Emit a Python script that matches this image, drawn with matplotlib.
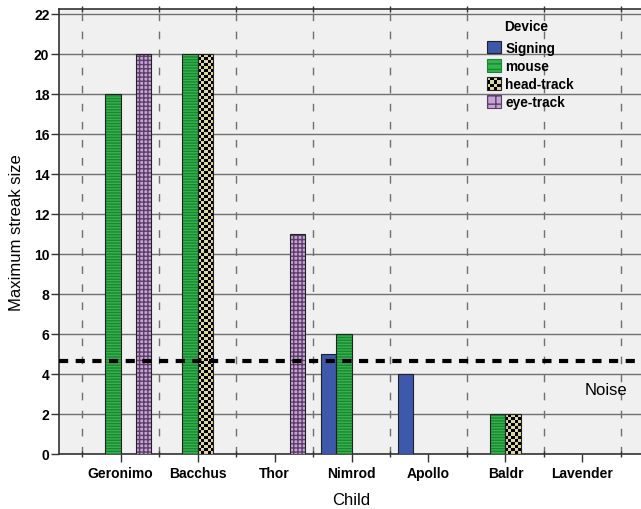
import numpy as np
import matplotlib
matplotlib.use('Agg')
import matplotlib.pyplot as plt
from matplotlib.colors import ListedColormap
from matplotlib.patches import Rectangle, Patch
from matplotlib.legend_handler import HandlerBase

plt.rcParams['font.family'] = ['Liberation Sans', 'DejaVu Sans']
plt.rcParams['hatch.linewidth'] = 1.0

children = ['Geronimo', 'Bacchus', 'Thor', 'Nimrod', 'Apollo', 'Baldr', 'Lavender']
devices = ['Signing', 'mouse', 'head-track', 'eye-track']
nan = np.nan
signing = [nan, nan, nan, 5, 4, nan, 0]
mouse = [18, 20, nan, 6, nan, 2, nan]
head_track = [nan, 20, nan, nan, nan, 2, nan]
eye_track = [20, nan, 11, nan, nan, nan, nan]
noise_level = 4.65

BLUE = '#3e58ab'
GREEN = '#34b44c'
GREEN_DARK = '#1c8533'
KHAKI = '#dcd69a'
LILAC = '#c7a3d6'
LILAC_DARK = '#5b3f68'

fig = plt.figure(figsize=(6.41, 5.10), dpi=100)
ax = fig.add_axes([59 / 641, 55 / 510, 585 / 641, 445 / 510])
ax.set_facecolor('#f0f0f0')

x = np.arange(len(children))
w = 0.2
offsets = [-1.5, -0.5, 0.5, 1.5]


def outline(bars):
    for r in bars:
        ax.add_patch(Rectangle((r.get_x(), r.get_y()), r.get_width(), r.get_height(),
                               fill=False, edgecolor='#222222', lw=0.8, zorder=4))


def valid(vals):
    vals = np.array(vals, dtype=float)
    m = ~np.isnan(vals)
    return m, vals


# Signing
m, v = valid(signing)
b = ax.bar(x[m] + offsets[0] * w, v[m], w, color=BLUE, edgecolor='none', zorder=3)
outline(b)

# mouse: horizontal stripes
m, v = valid(mouse)
b = ax.bar(x[m] + offsets[1] * w, v[m], w, facecolor=GREEN, edgecolor=GREEN_DARK,
           hatch='------', lw=0, zorder=3)
outline(b)

# head-track: checkerboard
m, v = valid(head_track)
b = ax.bar(x[m] + offsets[2] * w, v[m], w, color=KHAKI, edgecolor='none', zorder=3)
cell_y = 0.15
for r in b:
    rows = int(np.ceil(r.get_height() / cell_y))
    board = (np.add.outer(np.arange(rows), np.arange(5)) % 2).astype(float)
    im = ax.imshow(board, cmap=ListedColormap([KHAKI, 'black']), aspect='auto',
                   interpolation='nearest', origin='lower',
                   extent=(r.get_x(), r.get_x() + r.get_width(), 0, rows * cell_y),
                   zorder=3.5)
    im.set_clip_path(r)
outline(b)

# eye-track: grid
m, v = valid(eye_track)
b = ax.bar(x[m] + offsets[3] * w, v[m], w, facecolor=LILAC, edgecolor=LILAC_DARK,
           hatch='++++', lw=0, zorder=3)
outline(b)

# noise line
ax.axhline(noise_level, color='black', lw=3, linestyle=(0, (2.2, 1.8)), zorder=5)
ax.text(6.31, 3.2, 'Noise', fontsize=12, ha='center', va='center', zorder=5)

ax.set_xlim(-0.8, 6.8)
ax.set_ylim(0, 22.24)
ax.set_yticks(np.arange(0, 23, 2))
ax.set_xticks(x)
ax.set_xticks(np.append(x - 0.5, 6.5), minor=True)
ax.set_xticklabels(children, fontsize=10, fontweight='bold')
for t in ax.get_yticklabels():
    t.set_fontweight('bold')
    t.set_fontsize(10)

ax.grid(axis='y', color='#707070', lw=1, zorder=1)
ax.grid(axis='x', which='minor', color='#707070', lw=1, linestyle=(0, (5.5, 7.5)), zorder=1)
ax.tick_params(axis='x', which='major', length=6, width=1, color='#333333', pad=3)
ax.tick_params(axis='x', which='minor', length=5, width=1, color='#333333',
               direction='inout', top=True)
ax.tick_params(axis='y', length=6, width=1, color='#333333', pad=1)
for s in ax.spines.values():
    s.set_color('#333333')
    s.set_linewidth(1.2)

ax.set_xlabel('Child', fontsize=12, labelpad=8)
ax.set_ylabel('Maximum streak size', fontsize=12, labelpad=7)


class CheckerHandler(HandlerBase):
    def create_artists(self, legend, orig_handle, xdescent, ydescent, width, height,
                       fontsize, trans):
        x0, y0 = -xdescent, -ydescent
        arts = [Rectangle((x0, y0), width, height, facecolor=KHAKI, edgecolor='none',
                          transform=trans)]
        n = 4
        cw, ch = width / n, height / n
        for i in range(n):
            for j in range(n):
                if (i + j) % 2 == 0:
                    arts.append(Rectangle((x0 + i * cw, y0 + j * ch), cw, ch,
                                          facecolor='black', lw=0, transform=trans))
        arts.append(Rectangle((x0, y0), width, height, fill=False, edgecolor='#222222',
                              lw=0.8, transform=trans))
        return arts


handles = [
    Patch(facecolor=BLUE, edgecolor='#222222', lw=0.8),
    Patch(facecolor=GREEN, edgecolor=GREEN_DARK, hatch='---', lw=0.8),
    Patch(facecolor=KHAKI, edgecolor='#222222', lw=0.8),
    Patch(facecolor=LILAC, edgecolor=LILAC_DARK, hatch='++', lw=0.8),
]
leg = ax.legend(handles, devices, loc='upper left',
                bbox_to_anchor=(487 / 641, 1 - 42 / 510), bbox_transform=fig.transFigure,
                frameon=False, handlelength=1.0, handleheight=1.0, handletextpad=0.35,
                labelspacing=0.3, borderpad=0, borderaxespad=0,
                prop={'weight': 'bold', 'size': 9.8},
                handler_map={handles[2]: CheckerHandler()})
leg.set_zorder(6)
fig.text(526 / 641, 1 - 27 / 510, 'Device', fontsize=9.8, fontweight='bold',
         ha='center', va='center')

fig.savefig('out.png', dpi=100)
